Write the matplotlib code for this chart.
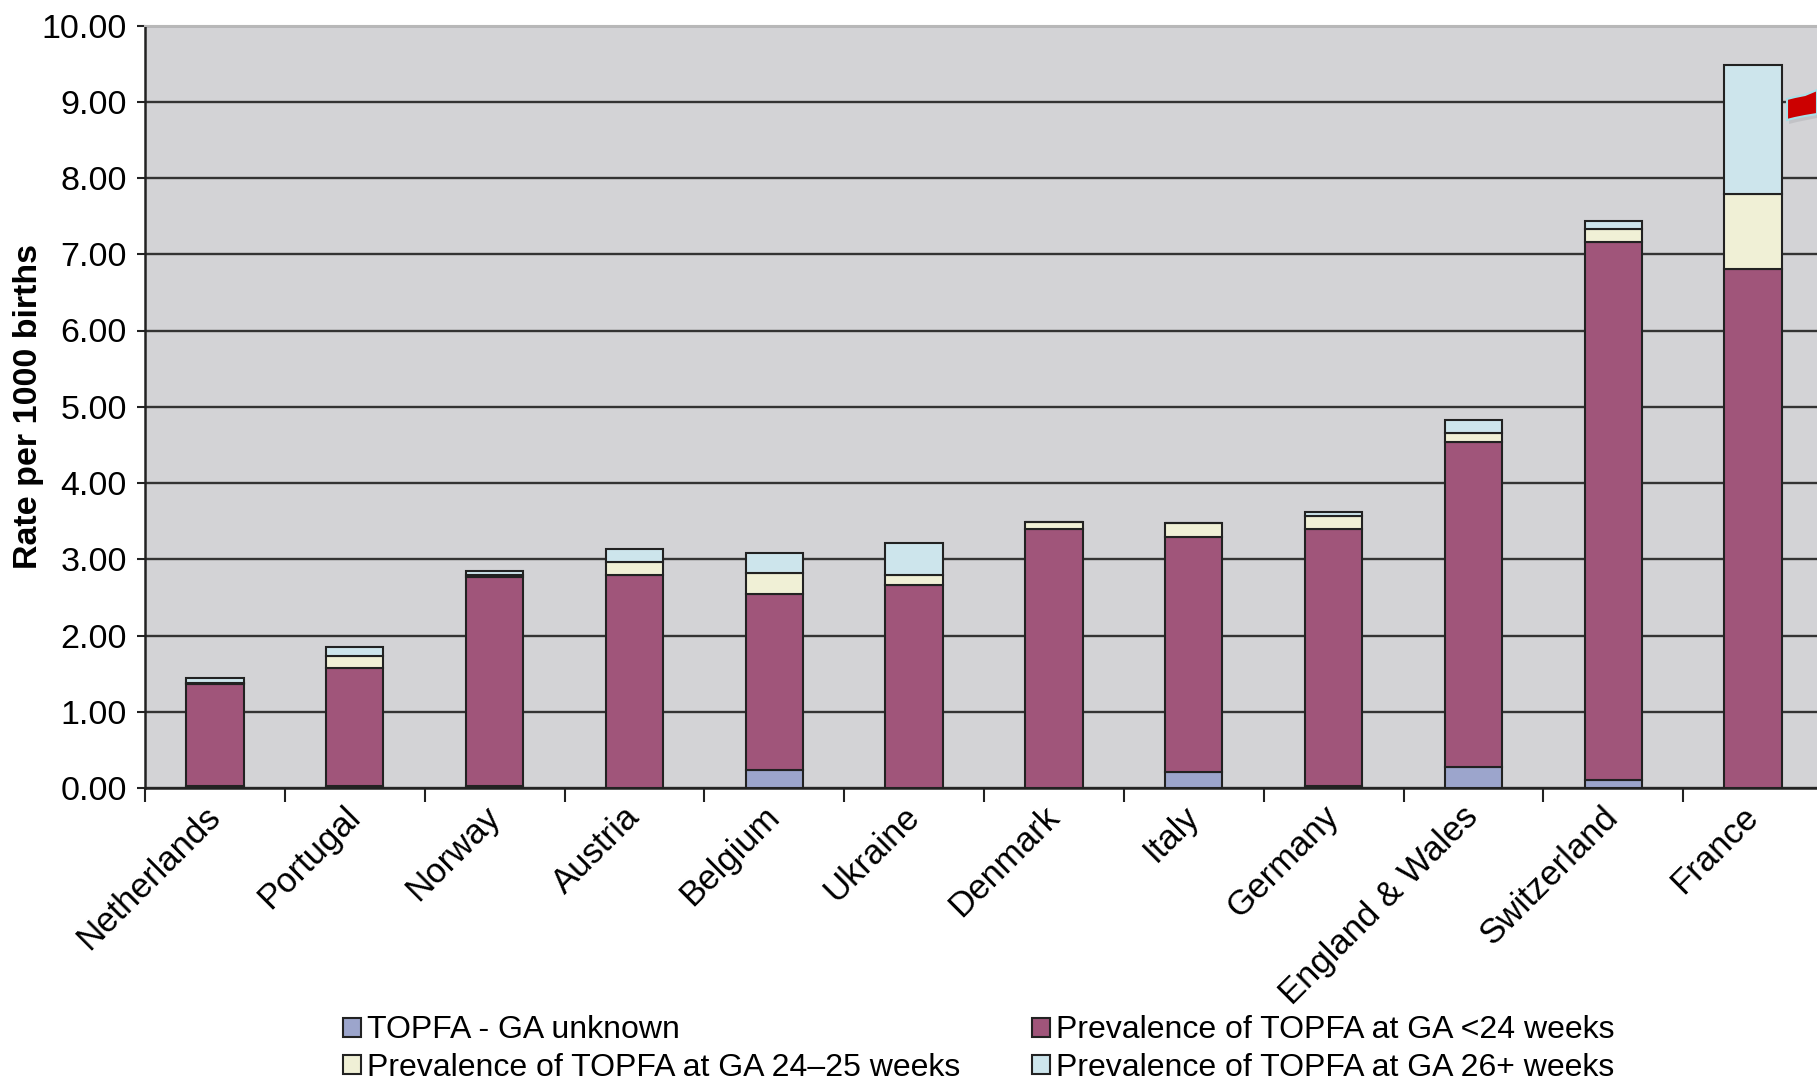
import matplotlib
matplotlib.use("Agg")
import matplotlib.pyplot as plt
from matplotlib.patches import Polygon
import numpy as np

plt.rcParams['font.family'] = ['Liberation Sans', 'DejaVu Sans']

countries = ["Netherlands", "Portugal", "Norway", "Austria", "Belgium", "Ukraine",
             "Denmark", "Italy", "Germany", "England & Wales", "Switzerland", "France"]
ga_unknown = [0.02, 0.02, 0.02, 0.00, 0.23, 0.00, 0.00, 0.21, 0.02, 0.27, 0.10, 0.00]
lt24 = [1.35, 1.55, 2.75, 2.80, 2.32, 2.66, 3.40, 3.08, 3.38, 4.27, 7.06, 6.81]
w24_25 = [0.01, 0.16, 0.02, 0.16, 0.27, 0.14, 0.09, 0.19, 0.17, 0.11, 0.17, 0.98]
w26p = [0.06, 0.12, 0.06, 0.17, 0.26, 0.41, 0.00, 0.00, 0.05, 0.17, 0.11, 1.69]

series = [
    ("TOPFA - GA unknown", ga_unknown, "#9CA5CC"),
    ("Prevalence of TOPFA at GA 24\u201325 weeks", w24_25, "#F0F0D6"),
    ("Prevalence of TOPFA at GA <24 weeks", lt24, "#A0557A"),
    ("Prevalence of TOPFA at GA 26+ weeks", w26p, "#CDE5EC"),
]
stack_order = [0, 2, 1, 3]

W, H = 1817, 1080
fig = plt.figure(figsize=(W / 100, H / 100), dpi=100)
ax = fig.add_axes([145 / W, 1 - 788 / H, (1823 - 145) / W, (788 - 25.5) / H])
ax.set_facecolor("#D3D3D6")

x = np.arange(len(countries))
bottom = np.zeros(len(countries))
handles = {}
for i in stack_order:
    name, vals, col = series[i]
    vals = np.array(vals)
    b = ax.bar(x, vals, width=0.41, bottom=bottom, color=col, edgecolor="#222222",
               linewidth=1.5, label=name, zorder=3)
    handles[i] = b
    bottom = bottom + vals

ax.set_xlim(-0.5, 11.5)
ax.set_ylim(0, 10)
ax.set_yticks(np.arange(0, 11, 1))
ax.set_yticklabels([f"{v:.2f}" for v in np.arange(0, 11, 1)], fontsize=24.5)
ax.yaxis.grid(True, color="#333333", linewidth=1.7, zorder=1)
ax.set_axisbelow(True)
ax.tick_params(axis="y", length=6, width=1.5, pad=7, color="#222222")

ax.set_xticks(x)
ax.set_xticklabels(countries, fontsize=25, rotation=45, ha="right", va="center",
                   rotation_mode="anchor")
ax.tick_params(axis="x", which="major", length=0, pad=17)
ax.set_xticks(np.arange(-0.5, 12.0, 1), minor=True)
ax.tick_params(axis="x", which="minor", length=10, width=1.5, color="#222222")

for s in ["left", "bottom"]:
    ax.spines[s].set_color("#222222")
    ax.spines[s].set_linewidth(1.8)
ax.spines["top"].set_color("#B8B8B8")
ax.spines["top"].set_linewidth(1.5)
ax.spines["right"].set_visible(False)

fig.text(29 / W, 1 - 406 / H, "Rate per 1000 births", rotation=90, fontsize=24.5,
         fontweight="bold", ha="center", va="center")

order = [0, 1, 2, 3]
fig.legend([handles[i] for i in order], [series[i][0] for i in order], ncol=2,
           loc="center", bbox_to_anchor=(979 / W, 1 - 1049 / H), frameon=False,
           fontsize=23, handlelength=0.55, handleheight=0.55, handletextpad=0.2,
           columnspacing=2.25, labelspacing=0.22, borderpad=0)

# red pointer fragment at the right edge
shadow_pts = [(1789, 103), (1797, 101), (1807, 99), (1817, 95), (1817, 118), (1807, 120),
              (1797, 122), (1789, 124)]
fig.patches.append(Polygon([(px / W, 1 - py / H) for px, py in shadow_pts], closed=True,
                           transform=fig.transFigure, facecolor="#B8B8BC",
                           edgecolor="none", alpha=0.6, zorder=9))
pts = [(1787, 99), (1795, 97), (1805, 95), (1817, 90), (1817, 114), (1805, 116),
       (1795, 118), (1787, 120)]
fig.patches.append(Polygon([(px / W, 1 - py / H) for px, py in pts], closed=True,
                           transform=fig.transFigure, facecolor="#CC0000",
                           edgecolor="#A8E0E8", linewidth=1.5, zorder=10))

fig.savefig("out.png", dpi=100)
